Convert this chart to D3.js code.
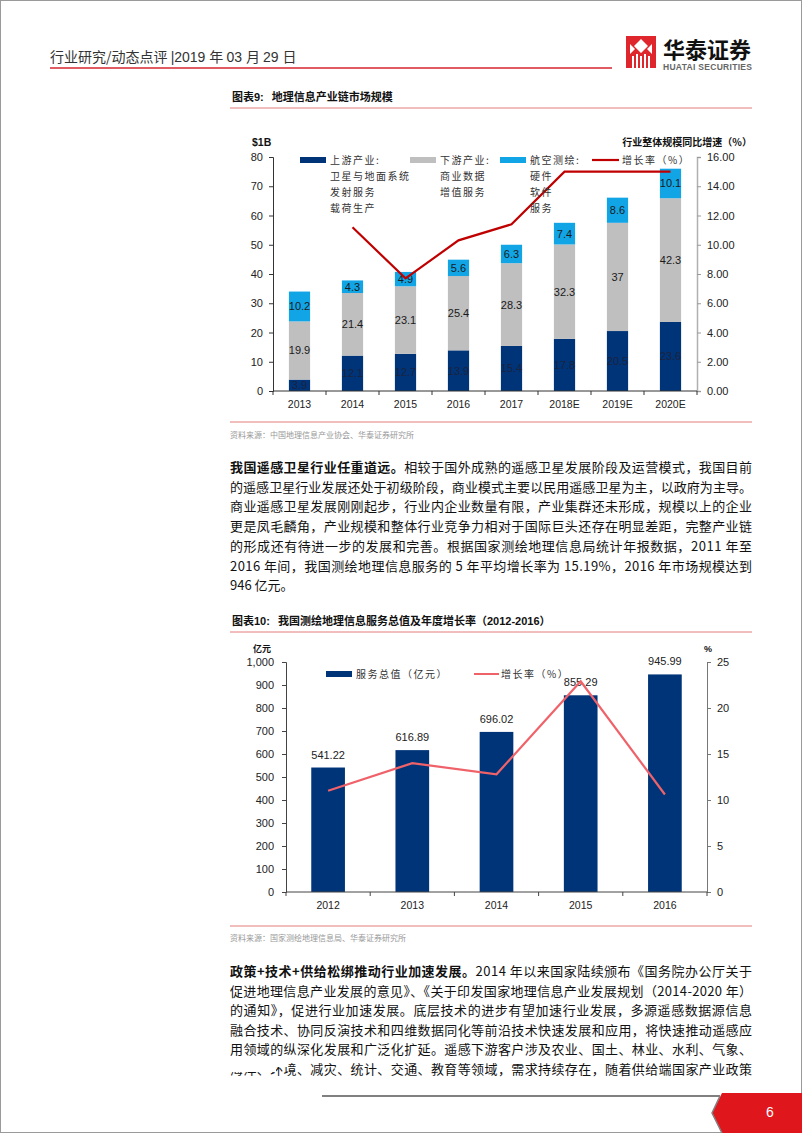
<!DOCTYPE html>
<html><head><meta charset="utf-8">
<script src="https://cdn.jsdelivr.net/npm/d3@7"></script>
<style>
html,body{margin:0;padding:0;background:#fff;}
svg{display:block;}
text{font-family:"Liberation Sans","Noto Sans CJK SC",Arial,sans-serif;}
.cjk{font-family:"Noto Sans CJK SC","Liberation Sans",sans-serif;}
</style></head><body>
<script>
// ---------- Chart 9 data ----------
const years9 = ["2013","2014","2015","2016","2017","2018E","2019E","2020E"];
const upstream = [3.9,12.1,12.7,13.9,15.4,17.8,20.5,23.6];
const downstream = [19.9,21.4,23.1,25.4,28.3,32.3,37,42.3];
const aerial = [10.2,4.3,4.9,5.6,6.3,7.4,8.6,10.1];
const growth9 = [null,11.2,7.7,10.3,11.4,15.0,15.0,15.0];
const leftTicks9 = [0,10,20,30,40,50,60,70,80];
const rightTicks9 = [0,2,4,6,8,10,12,14,16];
// ---------- Chart 10 data ----------
const years10 = ["2012","2013","2014","2015","2016"];
const serviceValue = [541.22,616.89,696.02,855.29,945.99];
const growth10 = [11.0,14.0,12.8,22.9,10.6];
const leftTicks10 = [0,100,200,300,400,500,600,700,800,900,1000];
const rightTicks10 = [0,5,10,15,20,25];

const W=802,H=1133;
const svg=d3.select("body").append("svg").attr("width",W).attr("height",H);
svg.append("rect").attr("x",0.5).attr("y",0.5).attr("width",W-1).attr("height",H-1).attr("fill","#fff").attr("stroke","#9a9a9a");

// ---------- Header ----------
const hdr=svg.append("text").attr("x",50).attr("y",62).attr("font-size",14).attr("fill","#333");
hdr.append("tspan").attr("class","cjk").text("行业研究/动态点评 ");
hdr.append("tspan").text("|2019 ");
hdr.append("tspan").attr("class","cjk").text("年 ");
hdr.append("tspan").text("03 ");
hdr.append("tspan").attr("class","cjk").text("月 ");
hdr.append("tspan").text("29 ");
hdr.append("tspan").attr("class","cjk").text("日");
svg.append("line").attr("x1",50).attr("x2",612).attr("y1",68).attr("y2",68).attr("stroke","#d7262e").attr("stroke-width",1.5);
// logo
const lg=svg.append("g").attr("transform","translate(626,36)");
lg.append("rect").attr("width",30).attr("height",32).attr("fill","#e0262d");
lg.append("path").attr("d","M15,3 L22,10 L15,17 L8,10Z M4,8 L9,13 L4,18Z M26,8 L21,13 L26,18Z").attr("fill","#fff");
lg.append("path").attr("d","M6,20 h2 v12 h-2Z M10,18 h2 v14 h-2Z M14,20 h2 v12 h-2Z M18,18 h2 v14 h-2Z M22,20 h2 v12 h-2Z").attr("fill","#fff");
svg.append("text").attr("class","cjk").attr("x",663).attr("y",58).attr("font-size",22).attr("font-weight","bold").attr("fill","#111").text("华泰证券");
svg.append("text").attr("x",663).attr("y",70).attr("font-size",8.5).attr("font-weight","bold").attr("fill","#666").attr("textLength",89).text("HUATAI SECURITIES");

function title(y,num,txt){
  const t=svg.append("text").attr("x",232).attr("y",y).attr("font-size",11).attr("font-weight","bold").attr("fill","#111");
  t.append("tspan").attr("class","cjk").text("图表");
  t.append("tspan").text(num+":");
  t.append("tspan").attr("class","cjk").attr("dx",8).text(txt);
  return t;
}
function hline(y,c){svg.append("line").attr("x1",230).attr("x2",752).attr("y1",y).attr("y2",y).attr("stroke",c||"#e47a7a").attr("stroke-width",1);}

// ---------- Chart 9 ----------
title(101,"9","地理信息产业链市场规模");
hline(108);
const x9=d3.scaleBand().domain(years9).range([273,697]).paddingInner(0.6).paddingOuter(0.3);
const yL9=d3.scaleLinear().domain([0,80]).range([391,157]);
const yR9=d3.scaleLinear().domain([0,16]).range([391,157]);
const g9=svg.append("g");
const stack=years9.map((y,i)=>({y,u:upstream[i],d:downstream[i],a:aerial[i]}));
const segs=[["u","#003478"],["d","#bfbfbf"],["a","#12a5e6"]];
stack.forEach(s=>{
  let base=0;
  segs.forEach(([k,c])=>{
    const v=s[k];
    g9.append("rect").attr("x",x9(s.y)).attr("width",x9.bandwidth()).attr("y",yL9(base+v)).attr("height",yL9(base)-yL9(base+v)).attr("fill",c);
    g9.append("text").attr("x",x9(s.y)+x9.bandwidth()/2).attr("y",yL9(base+v/2)+4).attr("text-anchor","middle").attr("font-size",11)
      .attr("fill",k==="u"?"#1a2340":"#1a1a1a").text(v);
    base+=v;
  });
});
// axes
const axL9=svg.append("g").attr("transform","translate(273,0)").call(d3.axisLeft(yL9).tickValues(leftTicks9).tickSize(4).tickPadding(6));
axL9.select(".domain").attr("stroke","#333");
axL9.selectAll("line").attr("stroke","#333");
axL9.selectAll("text").attr("font-size",11).attr("fill","#222").attr("font-family","Liberation Sans");
const axR9=svg.append("g").attr("transform","translate(697,0)").call(d3.axisRight(yR9).tickValues(rightTicks9).tickSize(4).tickPadding(6).tickFormat(d3.format(".2f")));
axR9.select(".domain").attr("stroke","#b0b0b0").attr("stroke-width",1.5);
axR9.selectAll("line").attr("stroke","#999");
axR9.selectAll("text").attr("font-size",11).attr("fill","#222").attr("font-family","Liberation Sans");
svg.append("line").attr("x1",273).attr("x2",697).attr("y1",391).attr("y2",391).attr("stroke","#333");
years9.forEach((y,i)=>{const xx=x9(y)-x9.step()*0.3; svg.append("line").attr("x1",xx).attr("x2",xx).attr("y1",391).attr("y2",395).attr("stroke","#333");});
svg.append("line").attr("x1",697).attr("x2",697).attr("y1",391).attr("y2",395).attr("stroke","#333");
years9.forEach(y=>svg.append("text").attr("x",x9(y)+x9.bandwidth()/2).attr("y",408).attr("text-anchor","middle").attr("font-size",10.5).attr("fill","#222").text(y));
// growth line
const lineData9=years9.map((y,i)=>({y,v:growth9[i]})).filter(d=>d.v!==null);
svg.append("path").datum(lineData9).attr("fill","none").attr("stroke","#c00000").attr("stroke-width",2.2)
  .attr("d",d3.line().x(d=>x9(d.y)+x9.bandwidth()/2).y(d=>yR9(d.v)));
// axis titles
svg.append("text").attr("x",252).attr("y",146).attr("font-size",10.5).attr("font-weight","bold").attr("fill","#111").text("$1B");
svg.append("text").attr("class","cjk").attr("x",752).attr("y",146).attr("text-anchor","end").attr("font-size",10).attr("font-weight","bold").attr("fill","#111").text("行业整体规模同比增速（%）");
// legend
const leg9=[["#003478",300,"上游产业:",["卫星与地面系统","发射服务","载荷生产"]],["#bfbfbf",410,"下游产业:",["商业数据","增值服务"]],["#12a5e6",500,"航空测绘:",["硬件","软件","服务"]]];
leg9.forEach(([c,x,t,sub])=>{
  svg.append("rect").attr("x",x).attr("y",157).attr("width",26).attr("height",6).attr("fill",c);
  svg.append("text").attr("class","cjk").attr("x",x+30).attr("y",164).attr("font-size",10).attr("letter-spacing",1.5).attr("fill","#333").text(t);
  sub.forEach((s,j)=>svg.append("text").attr("class","cjk").attr("x",x+30).attr("y",180+j*16).attr("font-size",10).attr("letter-spacing",1.5).attr("fill","#333").text(s));
});
svg.append("line").attr("x1",592).attr("x2",619).attr("y1",160).attr("y2",160).attr("stroke","#c00000").attr("stroke-width",2.2);
svg.append("text").attr("class","cjk").attr("x",622).attr("y",164).attr("font-size",10).attr("letter-spacing",1.5).attr("fill","#333").text("增长率（%）");
hline(422);
svg.append("text").attr("class","cjk").attr("x",230).attr("y",438).attr("font-size",8).attr("fill","#999").text("资料来源：中国地理信息产业协会、华泰证券研究所");

// ---------- Paragraph 1 ----------
function para(lines,y0,dy){
  lines.forEach((ln,i)=>{
    const t=svg.append("text").attr("class","cjk").attr("x",230).attr("y",y0+i*dy).attr("font-size",13).attr("fill","#111");
    if(ln.full) t.attr("textLength",522).attr("lengthAdjust","spacing");
    ln.parts.forEach(p=>{const s=t.append("tspan").text(p[0]); if(p[1]) s.attr("font-weight","bold");});
  });
}
para([
 {full:true,parts:[["我国遥感卫星行业任重道远。",1],["相较于国外成熟的遥感卫星发展阶段及运营模式，我国目前"]]},
 {full:true,parts:[["的遥感卫星行业发展还处于初级阶段，商业模式主要以民用遥感卫星为主，以政府为主导。"]]},
 {full:true,parts:[["商业遥感卫星发展刚刚起步，行业内企业数量有限，产业集群还未形成，规模以上的企业"]]},
 {full:true,parts:[["更是凤毛麟角，产业规模和整体行业竞争力相对于国际巨头还存在明显差距，完整产业链"]]},
 {full:true,parts:[["的形成还有待进一步的发展和完善。根据国家测绘地理信息局统计年报数据，2011 年至"]]},
 {full:true,parts:[["2016 年间，我国测绘地理信息服务的 5 年平均增长率为 15.19%，2016 年市场规模达到"]]},
 {full:false,parts:[["946 亿元。"]]}
],472,19.7);

// ---------- Chart 10 ----------
const t10=title(625,"10","我国测绘地理信息服务总值及年度增长率");
t10.append("tspan").text("（2012-2016）");
hline(632);
const x10=d3.scaleBand().domain(years10).range([286,707]).paddingInner(0.6).paddingOuter(0.3);
const yL10=d3.scaleLinear().domain([0,1000]).range([892,662]);
const yR10=d3.scaleLinear().domain([0,25]).range([892,662]);
years10.forEach((y,i)=>{
  svg.append("rect").attr("x",x10(y)).attr("width",x10.bandwidth()).attr("y",yL10(serviceValue[i])).attr("height",892-yL10(serviceValue[i])).attr("fill","#003478");
  svg.append("text").attr("x",x10(y)+x10.bandwidth()/2).attr("y",yL10(serviceValue[i])-9).attr("text-anchor","middle").attr("font-size",11).attr("fill","#222").text(serviceValue[i].toFixed(2));
});
const axL10=svg.append("g").attr("transform","translate(286,0)").call(d3.axisLeft(yL10).tickValues(leftTicks10).tickSize(4).tickPadding(8).tickFormat(d3.format(",")));
axL10.select(".domain").attr("stroke","#444");
axL10.selectAll("line").attr("stroke","#444");
axL10.selectAll("text").attr("font-size",11).attr("fill","#222").attr("font-family","Liberation Sans");
const axR10=svg.append("g").attr("transform","translate(707,0)").call(d3.axisRight(yR10).tickValues(rightTicks10).tickSize(4).tickPadding(6));
axR10.select(".domain").attr("stroke","#777");
axR10.selectAll("line").attr("stroke","#777");
axR10.selectAll("text").attr("font-size",11).attr("fill","#222").attr("font-family","Liberation Sans");
svg.append("line").attr("x1",286).attr("x2",707).attr("y1",892).attr("y2",892).attr("stroke","#444");
years10.forEach(y=>{const xx=x10(y)-x10.step()*0.3; svg.append("line").attr("x1",xx).attr("x2",xx).attr("y1",892).attr("y2",896).attr("stroke","#444");});
svg.append("line").attr("x1",707).attr("x2",707).attr("y1",892).attr("y2",896).attr("stroke","#444");
years10.forEach(y=>svg.append("text").attr("x",x10(y)+x10.bandwidth()/2).attr("y",909).attr("text-anchor","middle").attr("font-size",10.5).attr("fill","#222").text(y));
svg.append("path").datum(years10.map((y,i)=>({y,v:growth10[i]}))).attr("fill","none").attr("stroke","#f0626a").attr("stroke-width",2.2)
  .attr("d",d3.line().x(d=>x10(d.y)+x10.bandwidth()/2).y(d=>yR10(d.v)));
svg.append("text").attr("class","cjk").attr("x",253).attr("y",652).attr("font-size",9).attr("font-weight","bold").attr("fill","#111").text("亿元");
svg.append("text").attr("x",704).attr("y",652).attr("font-size",9).attr("font-weight","bold").attr("fill","#111").text("%");
svg.append("rect").attr("x",326).attr("y",671).attr("width",26).attr("height",6).attr("fill","#003478");
svg.append("text").attr("class","cjk").attr("x",356).attr("y",678).attr("font-size",10).attr("letter-spacing",1.5).attr("fill","#333").text("服务总值（亿元）");
svg.append("line").attr("x1",474).attr("x2",499).attr("y1",674).attr("y2",674).attr("stroke","#f0626a").attr("stroke-width",2);
svg.append("text").attr("class","cjk").attr("x",501).attr("y",678).attr("font-size",10).attr("letter-spacing",1.5).attr("fill","#333").text("增长率（%）");
hline(926);
svg.append("text").attr("class","cjk").attr("x",230).attr("y",941).attr("font-size",8).attr("fill","#999").text("资料来源：国家测绘地理信息局、华泰证券研究所");

// ---------- Paragraph 2 ----------
para([
 {full:true,parts:[["政策+技术+供给松绑推动行业加速发展。",1],["2014 年以来国家陆续颁布《国务院办公厅关于"]]},
 {full:true,parts:[["促进地理信息产业发展的意见》、《关于印发国家地理信息产业发展规划（2014-2020 年）"]]},
 {full:true,parts:[["的通知》，促进行业加速发展。底层技术的进步有望加速行业发展，多源遥感数据源信息"]]},
 {full:true,parts:[["融合技术、协同反演技术和四维数据同化等前沿技术快速发展和应用，将快速推动遥感应"]]},
 {full:true,parts:[["用领域的纵深化发展和广泛化扩延。遥感下游客户涉及农业、国土、林业、水利、气象、"]]},
 {full:true,parts:[["海洋、环境、减灾、统计、交通、教育等领域，需求持续存在，随着供给端国家产业政策"]]}
],976,19.5);
svg.append("rect").attr("x",229).attr("y",1058).attr("width",47).attr("height",14).attr("fill","#fff");
svg.append("rect").attr("x",276).attr("y",1058).attr("width",12).attr("height",9).attr("fill","#fff");

// ---------- Footer ----------
svg.append("line").attr("x1",322).attr("x2",720).attr("y1",1096).attr("y2",1096).attr("stroke","#808080").attr("stroke-width",2);
svg.append("path").attr("d","M722,1093 L802,1093 L802,1133 L722,1133 L712,1113 Z").attr("fill","#e0161d");
svg.append("path").attr("d","M720,1096 L712,1113 L722,1133").attr("fill","none").attr("stroke","#808080").attr("stroke-width",1.5);
svg.append("text").attr("x",770).attr("y",1117).attr("text-anchor","middle").attr("font-size",14).attr("fill","#fff").text("6");
</script>
</body></html>
